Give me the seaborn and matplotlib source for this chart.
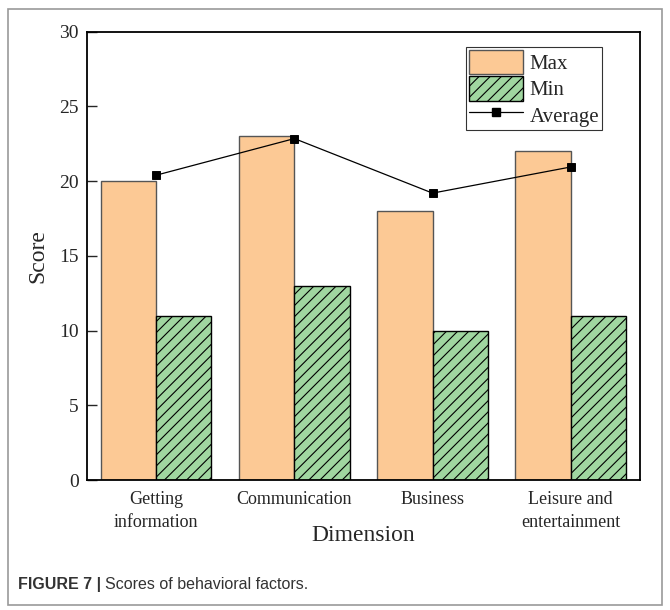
import numpy as np
import pandas as pd
import matplotlib
matplotlib.use('Agg')
import matplotlib.pyplot as plt
import matplotlib.patches as mpatches
from matplotlib.lines import Line2D
import seaborn as sns

dimensions = ['Getting\ninformation', 'Communication', 'Business', 'Leisure and\nentertainment']
max_scores = [20, 23, 18, 22]
min_scores = [11, 13, 10, 11]
avg_scores = [20.4, 22.85, 19.2, 20.95]

df = pd.DataFrame({
    'Dimension': dimensions * 2,
    'Type': ['Max'] * 4 + ['Min'] * 4,
    'Score': max_scores + min_scores,
})

sns.set_style('ticks')
plt.rcParams['font.family'] = ['Liberation Serif', 'DejaVu Serif']
plt.rcParams['hatch.linewidth'] = 0.8

fig = plt.figure(figsize=(6.7, 6.1), dpi=100)
ax = fig.add_axes([0.13, 0.213, 0.825, 0.735])

my_pal = {'Max': '#fcc995', 'Min': '#a0d6a0'}
sns.barplot(data=df, x='Dimension', y='Score', hue='Type', palette=my_pal,
            order=dimensions, hue_order=['Max', 'Min'], width=0.8,
            saturation=1, ax=ax, legend=False)

# edges and hatch
for bar in ax.containers[0]:
    bar.set_edgecolor('#555555')
    bar.set_linewidth(1.0)
for bar in ax.containers[1]:
    bar.set_edgecolor('black')
    bar.set_linewidth(1.0)
    bar.set_hatch('///')

sns.pointplot(x=dimensions, y=avg_scores, order=dimensions, color='black',
              markers='s', linestyles='-', markersize=6, linewidth=0.9,
              errorbar=None, ax=ax)

ax.set_xlim(-0.5, 3.5)
ax.set_ylim(0, 30)
ax.set_yticks([0, 5, 10, 15, 20, 25, 30])
ax.tick_params(axis='y', direction='in', length=7, width=1, labelsize=14, pad=6)
ax.tick_params(axis='x', length=0, labelsize=13, pad=8)
for lbl in ax.get_xticklabels():
    lbl.set_linespacing(1.45)
for s in ax.spines.values():
    s.set_visible(True)
    s.set_linewidth(1.3)
    s.set_color('black')
ax.set_ylabel('Score', fontsize=17, labelpad=8)
ax.set_xlabel('Dimension', fontsize=17)
ax.xaxis.set_label_coords(0.5, -0.1)

handles = [
    mpatches.Patch(facecolor=my_pal['Max'], edgecolor='#555555', label='Max'),
    mpatches.Patch(facecolor=my_pal['Min'], edgecolor='black', hatch='///', label='Min'),
    Line2D([], [], color='black', marker='s', markersize=6, linewidth=0.9, label='Average'),
]
leg = ax.legend(handles=handles, loc='upper right', bbox_to_anchor=(0.932, 0.967),
                fontsize=15, frameon=True, fancybox=False, edgecolor='black',
                handlelength=2.6, handleheight=1.45, handletextpad=0.3,
                labelspacing=0.08, borderpad=0.15, borderaxespad=0)
leg.get_frame().set_linewidth(0.8)

# outer frame of figure
fig.patches.append(mpatches.Rectangle((0.012, 0.008), 0.976, 0.978, transform=fig.transFigure,
                                      fill=False, edgecolor='#999999', linewidth=1.2))

t1 = fig.text(0.027, 0.041, 'FIGURE 7 |', fontsize=11.5, fontweight='bold',
              family='Liberation Sans', color='#333333', va='center')
fig.canvas.draw()
bb = t1.get_window_extent().transformed(fig.transFigure.inverted())
fig.text(bb.x1 + 0.005, 0.041, 'Scores of behavioral factors.', fontsize=11.5,
         family='Liberation Sans', color='#333333', va='center')

fig.savefig('out.png', dpi=100)
